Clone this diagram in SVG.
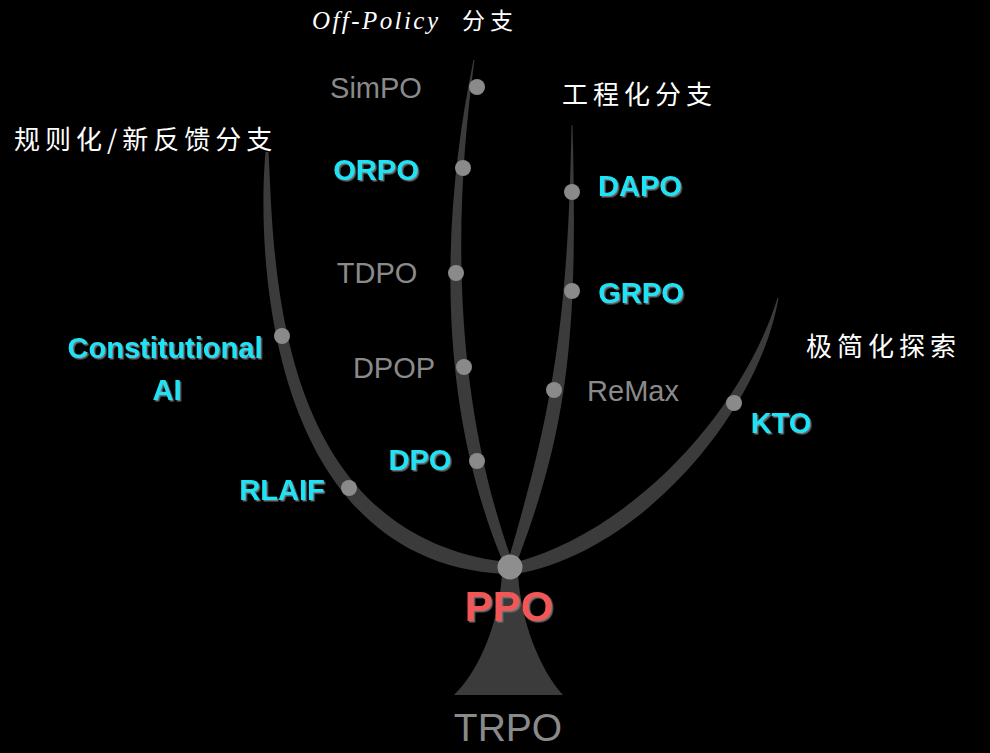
<svg xmlns="http://www.w3.org/2000/svg" width="990" height="753" viewBox="0 0 990 753">
  <defs>
    <filter id="sh" x="-10%" y="-20%" width="130%" height="150%">
      <feDropShadow dx="1.5" dy="1.5" stdDeviation="0.4" flood-color="#7a7a7a" flood-opacity="0.9"/>
    </filter>
  </defs>
  <style>
    .branch { fill: #3b3b3b; }
    .dot { fill: #8a8a8a; }
    .gray { font-family: "Liberation Sans", Arial, sans-serif; font-size: 29px; fill: #8a8a8a; }
    .cyan { font-family: "Liberation Sans", Arial, sans-serif; font-weight: bold; font-size: 29px; fill: #1de3f5; filter: url(#sh); }
    .head { font-family: "Noto Sans CJK SC", sans-serif; font-size: 26px; fill: #ffffff; letter-spacing: 5px; }
    .headl { font-family: "Liberation Serif", serif; font-style: italic; font-size: 25px; fill: #ffffff; }
  </style>
  <rect width="990" height="753" fill="#000000"/>

  <g id="connectors">
    <!-- trunk -->
    <path class="branch" d="M502,572 C500,620 480,670 454,695 L563,695 C540,670 520,620 518,572 Z"/>
    <!-- left branch: regularization / new feedback -->
    <path class="branch" d="M265.5,152 C256.5,252.7 266.7,561.2 504.4,574 L505.6,562 C270.3,533.2 274.5,252.9 268.5,152 Z"/>
    <!-- middle branch: off-policy -->
    <path class="branch" d="M473.5,60 C441,217.4 436.1,401.9 503,562 L511,558 C453.1,394.1 452.8,219.4 474.5,60 Z"/>
    <!-- engineering branch -->
    <path class="branch" d="M571.5,125 C568,330 550.5,416.1 508.8,558.5 L517.2,561.5 C569.5,423.9 578,330 572.5,125 Z"/>
    <!-- right branch: minimalist -->
    <path class="branch" d="M778.5,298 C759.6,411 642.4,551.7 516.1,574 L513.9,563 C637.6,529.3 744,407.2 777.5,298 Z"/>
  </g>

  <g id="headings">
    <text class="headl" x="312" y="29"><tspan textLength="126" lengthAdjust="spacing">Off-Policy</tspan><tspan x="462" font-family="Noto Sans CJK SC, sans-serif" font-style="normal" font-size="23" letter-spacing="5">分支</tspan></text>
    <text class="head" x="562" y="104">工程化分支</text>
    <text class="head" x="14" y="149">规则化/新反馈分支</text>
    <text class="head" x="806" y="356">极简化探索</text>
  </g>

  <g id="node-trpo"><text x="508" y="741" text-anchor="middle" style="font-family: 'Liberation Sans', Arial, sans-serif; font-size: 39px; fill: #8a8a8a;">TRPO</text></g>
  <g id="node-ppo">
    <circle cx="510" cy="567" r="12.5" fill="#8e8e8e"/>
    <text x="509" y="621" text-anchor="middle" font-family="Liberation Sans, Arial, sans-serif" font-weight="bold" font-size="42" fill="#f25757" filter="url(#sh)">PPO</text>
  </g>

  <g id="node-simpo"><circle class="dot" cx="477" cy="87" r="8"/><text class="gray" x="376" y="98" text-anchor="middle">SimPO</text></g>
  <g id="node-orpo"><circle class="dot" cx="463" cy="168" r="8"/><text class="cyan" x="376" y="179.5" text-anchor="middle">ORPO</text></g>
  <g id="node-tdpo"><circle class="dot" cx="456" cy="273" r="8"/><text class="gray" x="377" y="283" text-anchor="middle">TDPO</text></g>
  <g id="node-dpop"><circle class="dot" cx="464" cy="367" r="8"/><text class="gray" x="394" y="378" text-anchor="middle">DPOP</text></g>
  <g id="node-dpo"><circle class="dot" cx="477" cy="461" r="8"/><text class="cyan" x="420" y="469.5" text-anchor="middle">DPO</text></g>

  <g id="node-constitutional-ai"><circle class="dot" cx="282" cy="336" r="8"/>
    <text class="cyan" x="165" y="357.5" text-anchor="middle">Constitutional</text>
    <text class="cyan" x="167" y="399.5" text-anchor="middle">AI</text></g>
  <g id="node-rlaif"><circle class="dot" cx="349" cy="488" r="8"/><text class="cyan" x="282" y="499.5" text-anchor="middle">RLAIF</text></g>

  <g id="node-dapo"><circle class="dot" cx="572" cy="192" r="8"/><text class="cyan" x="640" y="195.5" text-anchor="middle">DAPO</text></g>
  <g id="node-grpo"><circle class="dot" cx="572" cy="291" r="8"/><text class="cyan" x="641" y="302.5" text-anchor="middle">GRPO</text></g>
  <g id="node-remax"><circle class="dot" cx="554" cy="390" r="8"/><text class="gray" x="633" y="400.5" text-anchor="middle">ReMax</text></g>

  <g id="node-kto"><circle class="dot" cx="734" cy="403" r="8"/><text class="cyan" x="781" y="432.5" text-anchor="middle">KTO</text></g>
</svg>
